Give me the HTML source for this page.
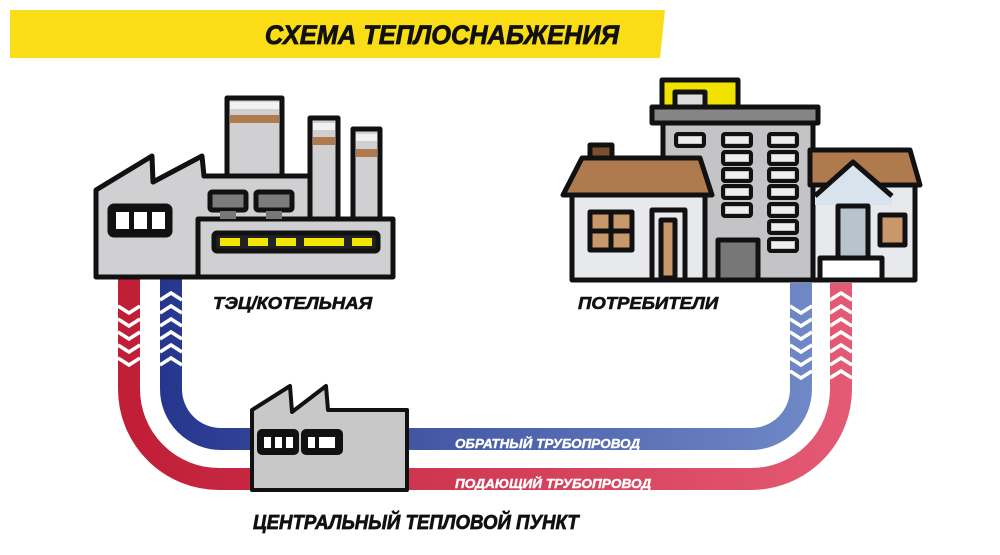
<!DOCTYPE html>
<html><head><meta charset="utf-8"><style>
html,body{margin:0;padding:0;background:#fff;}
svg{display:block;}
text{font-family:"Liberation Sans",sans-serif;font-weight:bold;font-style:italic;}
</style></head><body>
<svg width="1000" height="555" viewBox="0 0 1000 555" xmlns="http://www.w3.org/2000/svg">
<defs>
<linearGradient id="gb" gradientUnits="userSpaceOnUse" x1="160" y1="0" x2="812" y2="0">
<stop offset="0" stop-color="#26368e"/><stop offset="1" stop-color="#6f88c6"/></linearGradient>
<linearGradient id="gr" gradientUnits="userSpaceOnUse" x1="118" y1="0" x2="852" y2="0">
<stop offset="0" stop-color="#c01d36"/><stop offset="1" stop-color="#e45a74"/></linearGradient>
</defs>
<!-- banner -->
<polygon points="10,10 665,10 660,58 10,58" fill="#fbdd17"/>
<text x="442" y="44" font-size="27" text-anchor="middle" fill="#111" stroke="#111" stroke-width="0.8" transform="translate(442 0) scale(0.94 1) translate(-442 0)">СХЕМА ТЕПЛОСНАБЖЕНИЯ</text>

<!-- pipes -->
<path d="M129,278 V389 A90,90 0 0 0 219,479 H751 A90,90 0 0 0 841,389 V283" fill="none" stroke="url(#gr)" stroke-width="22"/>
<path d="M171,278 V389 A50,50 0 0 0 221,439 H751 A50,50 0 0 0 801,389 V283" fill="none" stroke="url(#gb)" stroke-width="22"/>
<!-- chevrons -->
<g fill="none" stroke="#fff" stroke-width="3.5">
<path d="M118,306 l11,7 l11,-7 M118,319 l11,7 l11,-7 M118,332 l11,7 l11,-7 M118,345 l11,7 l11,-7 M118,358 l11,7 l11,-7"/>
<path d="M160,300 l11,-7 l11,7 M160,313 l11,-7 l11,7 M160,326 l11,-7 l11,7 M160,339 l11,-7 l11,7 M160,352 l11,-7 l11,7 M160,365 l11,-7 l11,7"/>
<path d="M790,306 l11,7 l11,-7 M790,319 l11,7 l11,-7 M790,332 l11,7 l11,-7 M790,345 l11,7 l11,-7 M790,358 l11,7 l11,-7 M790,371 l11,7 l11,-7"/>
<path d="M830,300 l11,-7 l11,7 M830,313 l11,-7 l11,7 M830,326 l11,-7 l11,7 M830,339 l11,-7 l11,7 M830,352 l11,-7 l11,7 M830,365 l11,-7 l11,7 M830,378 l11,-7 l11,7"/>
</g>
<text x="455" y="448" font-size="12.5" fill="#fff" stroke="#fff" stroke-width="0.4" transform="translate(455 0) scale(1.075 1) translate(-455 0)">ОБРАТНЫЙ ТРУБОПРОВОД</text>
<text x="455" y="488" font-size="12.5" fill="#fff" stroke="#fff" stroke-width="0.4" transform="translate(455 0) scale(1.09 1) translate(-455 0)">ПОДАЮЩИЙ ТРУБОПРОВОД</text>

<!-- central heat point -->
<g stroke="#111" stroke-width="4" stroke-linejoin="round">
<polygon points="252,410 290,386 292,412 326,386 328,410 407,410 407,490 252,490" fill="#c8c8c8"/>
<rect x="259" y="431" width="38" height="22" rx="3" fill="#111"/>
<rect x="303" y="431" width="38" height="22" rx="3" fill="#111"/>
</g>
<g fill="#fff"><rect x="264" y="437" width="7" height="11"/><rect x="275" y="437" width="7" height="11"/><rect x="286" y="437" width="7" height="11"/>
<rect x="308" y="437" width="7" height="11"/><rect x="319" y="437" width="16" height="11"/></g>

<!-- factory -->
<g stroke="#111" stroke-width="5" stroke-linejoin="round">
<rect x="227" y="98" width="55" height="90" fill="#d0d0d2"/>
<rect x="310" y="118" width="28" height="110" fill="#d0d0d2"/>
<rect x="353" y="129" width="27" height="100" fill="#d0d0d2"/>
<polygon points="96,190 152,156 153,182 202,156 204,176 310,176 310,277 96,277" fill="#d0d0d2"/>
<rect x="198" y="219" width="195" height="58" fill="#d0d0d2"/>
<rect x="214" y="233" width="164" height="18" rx="3" fill="#222"/>
<rect x="110" y="206" width="60" height="29" rx="4" fill="#111"/>
<rect x="210" y="192" width="36" height="18" rx="2" fill="#7c7c7c"/>
<rect x="256" y="192" width="36" height="18" rx="2" fill="#7c7c7c"/>
</g>
<g fill="#b07a4f"><rect x="230" y="115" width="49" height="8"/><rect x="313" y="137" width="22" height="8"/><rect x="356" y="149" width="21" height="8"/></g>
<g fill="#f2f2f2"><rect x="230" y="102" width="49" height="7"/><rect x="313" y="123" width="22" height="7"/><rect x="356" y="134" width="21" height="7"/></g>
<g fill="#fff"><rect x="116" y="212" width="13" height="17"/><rect x="134" y="212" width="13" height="17"/><rect x="152" y="212" width="13" height="17"/></g>
<g fill="#f2e500"><rect x="220" y="238" width="20" height="8"/><rect x="248" y="238" width="20" height="8"/><rect x="276" y="238" width="20" height="8"/><rect x="304" y="238" width="40" height="8"/><rect x="352" y="238" width="20" height="8"/></g>
<g fill="#777"><rect x="220" y="211" width="16" height="8"/><rect x="266" y="211" width="16" height="8"/></g>

<!-- consumers -->
<g stroke="#111" stroke-width="5" stroke-linejoin="round">
<rect x="662" y="80" width="76" height="28" fill="#f2e200"/>
<rect x="675" y="92" width="30" height="16" fill="#ddd"/>
<rect x="663" y="122" width="150" height="158" fill="#c4c4c6"/>
<rect x="652" y="107" width="166" height="16" fill="#858585"/>
<rect x="718" y="240" width="40" height="40" fill="#777"/>
<polygon points="810,150 910,150 920,185 810,185" fill="#b07a4f"/>
<rect x="813" y="185" width="102" height="95" fill="#e8e9ec"/>
<polygon points="815,196 853,162 892,196 892,205 815,205" fill="#d9e3ee" stroke="none"/>
<path d="M815,196 L853,162 L892,196" fill="none"/>
<rect x="838" y="206" width="30" height="52" fill="#b8c4cc"/>
<rect x="820" y="258" width="62" height="22" fill="#fff"/>
<rect x="880" y="215" width="25" height="30" fill="#c8976a"/>
<rect x="590" y="145" width="22" height="30" fill="#7a4e2e"/>
<polygon points="563,195 582,158 700,158 712,195" fill="#b07a4f"/>
<rect x="572" y="195" width="133" height="85" fill="#e8e9ec"/>
<rect x="590" y="212" width="42" height="38" fill="#c8976a"/>
<path d="M611,212 V250 M590,231 H632" fill="none"/>
<rect x="652" y="210" width="33" height="70" fill="#e8e9ec"/>
<rect x="661" y="220" width="14" height="58" fill="#c8976a"/>
</g>
<g fill="#eee">
<rect x="679" y="137" width="22" height="6"/><rect x="726" y="137" width="22" height="6"/><rect x="772" y="137" width="22" height="6"/>
<rect x="726" y="155" width="22" height="6"/><rect x="772" y="155" width="22" height="6"/>
<rect x="726" y="172" width="22" height="6"/><rect x="772" y="172" width="22" height="6"/>
<rect x="726" y="189" width="22" height="6"/><rect x="772" y="189" width="22" height="6"/>
<rect x="726" y="207" width="22" height="6"/><rect x="772" y="207" width="22" height="6"/>
<rect x="772" y="224" width="22" height="6"/><rect x="772" y="242" width="22" height="6"/>
</g>
<g fill="none" stroke="#111" stroke-width="4">
<rect x="676" y="134" width="28" height="12" rx="2"/><rect x="723" y="134" width="28" height="12" rx="2"/><rect x="769" y="134" width="28" height="12" rx="2"/>
<rect x="723" y="152" width="28" height="12" rx="2"/><rect x="769" y="152" width="28" height="12" rx="2"/>
<rect x="723" y="169" width="28" height="12" rx="2"/><rect x="769" y="169" width="28" height="12" rx="2"/>
<rect x="723" y="186" width="28" height="12" rx="2"/><rect x="769" y="186" width="28" height="12" rx="2"/>
<rect x="723" y="204" width="28" height="12" rx="2"/><rect x="769" y="204" width="28" height="12" rx="2"/>
<rect x="769" y="221" width="28" height="12" rx="2"/><rect x="769" y="239" width="28" height="12" rx="2"/>
</g>

<!-- labels -->
<text x="213" y="309" font-size="17.5" fill="#111" stroke="#111" stroke-width="0.6" transform="translate(213 0) scale(1.06 1) translate(-213 0)">ТЭЦ/КОТЕЛЬНАЯ</text>
<text x="578" y="309" font-size="17.5" fill="#111" stroke="#111" stroke-width="0.6" transform="translate(578 0) scale(1.06 1) translate(-578 0)">ПОТРЕБИТЕЛИ</text>
<text x="253" y="529" font-size="20.5" fill="#111" stroke="#111" stroke-width="0.7" transform="translate(253 0) scale(0.91 1) translate(-253 0)">ЦЕНТРАЛЬНЫЙ ТЕПЛОВОЙ ПУНКТ</text>
</svg>
</body></html>
